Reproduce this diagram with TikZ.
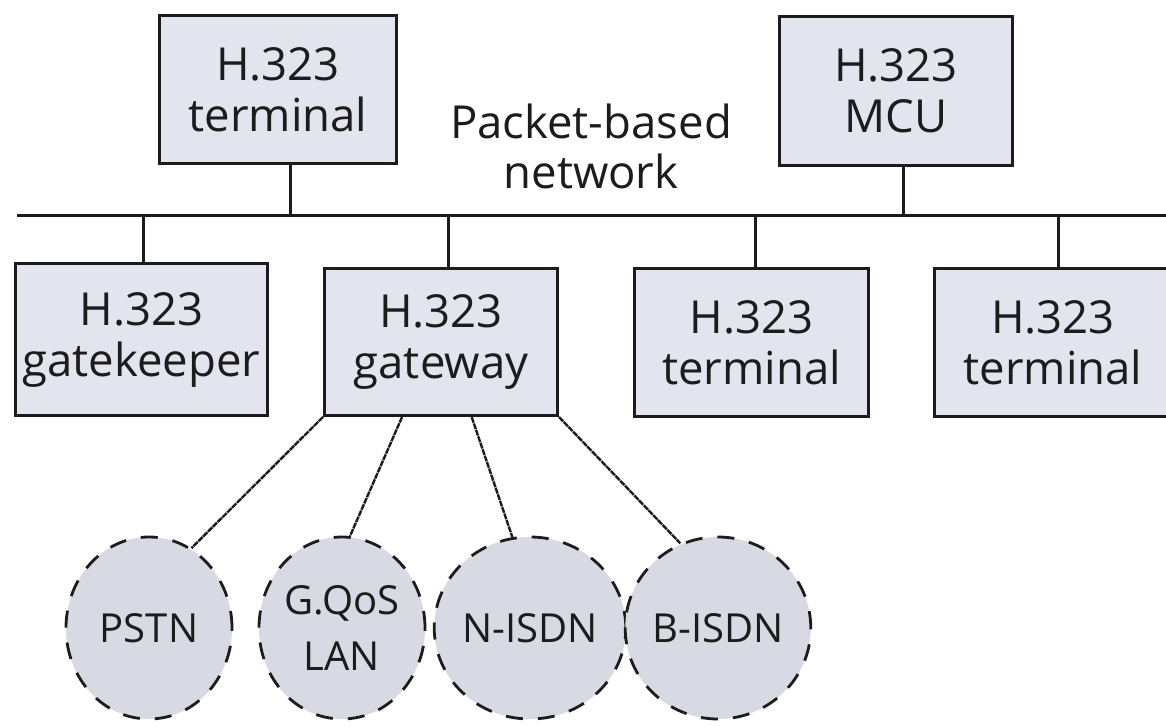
\documentclass[tikz,border=0pt]{standalone}
\usepackage{fontspec}
\setmainfont{Open Sans}
\usetikzlibrary{shapes.geometric,calc}
\definecolor{boxfill}{HTML}{E2E4EE}
\definecolor{netfill}{HTML}{D8DAE3}
\definecolor{ink}{HTML}{1C1C1C}
\begin{document}
\begin{tikzpicture}[x=1pt,y=-1pt,
  unit/.style={draw=ink, line width=3pt, fill=boxfill, text=ink, align=center,
    font=\fontsize{45.5}{51}\selectfont, inner sep=0pt},
  net/.style={ellipse, draw=ink, line width=2.8pt, dash pattern=on 17pt off 15pt,
    fill=netfill, text=ink, align=center, font=\fontsize{40}{56}\selectfont,
    minimum width=166pt, minimum height=182pt, inner sep=0pt},
  caption/.style={text=ink, align=center, font=\fontsize{45.5}{50}\selectfont, inner sep=0pt},
  link/.style={draw=ink, line width=3pt},
  feed/.style={draw=ink, line width=2.4pt, dash pattern=on 6pt off 0.8pt}]
\useasboundingbox (0,0) rectangle (1166,727);
\fill[white] (0,0) rectangle (1166,727);

% H.323 units on the packet-based network
\node[unit, minimum width=237pt, minimum height=148pt] (t1) at (278,89.5) {H.323\\terminal};
\node[unit, minimum width=233pt, minimum height=149pt] (mcu) at (896,91) {H.323\\MCU};
\node[unit, minimum width=252pt, minimum height=152pt] (gk) at (141.5,339.5) {H.323\\gatekeeper};
\node[unit, minimum width=233pt, minimum height=147pt] (gw) at (441,342) {H.323\\gateway};
\node[unit, minimum width=234pt, minimum height=148pt] (t2) at (751.5,342.5) {H.323\\terminal};
\node[unit, minimum width=237pt, minimum height=148pt] (t3) at (1053,342.5) {H.323\\terminal};

\node[caption] (lan) at (591,146) {Packet-based\\network};

% shared network bus
\coordinate (busL) at (17,216);
\coordinate (busR) at (1166,216);
\draw[link] (busL) -- (busR);

% drops from each unit to the bus
\draw[link] ([xshift=12pt]t1.south) -- ([xshift=12pt]t1.south |- busL);
\draw[link] ([xshift=7pt]mcu.south) -- ([xshift=7pt]mcu.south |- busL);
\draw[link] ([xshift=1.5pt]gk.north) -- ([xshift=1.5pt]gk.north |- busL);
\draw[link] ([xshift=7pt]gw.north) -- ([xshift=7pt]gw.north |- busL);
\draw[link] ([xshift=3.5pt]t2.north) -- ([xshift=3.5pt]t2.north |- busL);
\draw[link] ([xshift=5pt]t3.north) -- ([xshift=5pt]t3.north |- busL);

% networks reached through the gateway
\node[net] (pstn) at (149,628) {PSTN};
\node[net] (qos) at (342,628) {G.QoS\\LAN};
\node[net] (nisdn) at (530,628) {N-ISDN};
\node[net] (bisdn) at (718,628) {B-ISDN};

\draw[feed] (gw.south west) -- (pstn.62);
\draw[feed] ($(gw.south west)!0.335!(gw.south east)$) -- (qos.85);
\draw[feed] ($(gw.south west)!0.63!(gw.south east)$) -- (nisdn.101);
\draw[feed] (gw.south east) -- (bisdn.114);
\end{tikzpicture}
\end{document}
